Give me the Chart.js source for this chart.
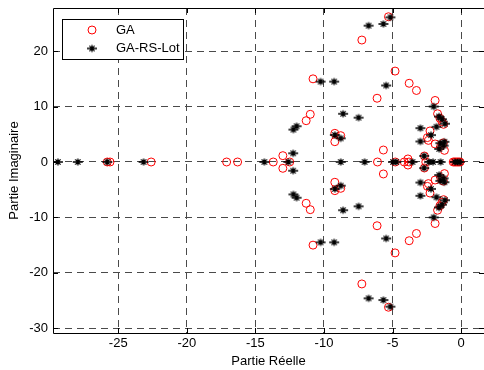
<!DOCTYPE html>
<html>
<head>
<meta charset="utf-8">
<script src="https://cdn.jsdelivr.net/npm/chart.js@4/dist/chart.umd.min.js"></script>
<style>
  html, body { margin: 0; padding: 0; background: #fff; overflow: hidden; }
  canvas { display: block; }
</style>
</head>
<body>
<canvas id="poles" width="490" height="370"></canvas>
<script>
// poles found by each method (real part, imaginary part)
const gaReal = [
  -5.30, -7.24, -4.82, -10.8, -3.79, -3.26, -6.13, -1.90, -11.0, -11.3,
  -1.72, -1.55, -1.40, -1.28, -9.21, -8.78, -9.21, -5.67, -13.0,
  -2.27, -2.46, -2.39, -1.90, -1.30, -1.50, -1.22, -2.68, -3.88,
  -5.30, -7.24, -4.82, -10.8, -3.79, -3.26, -6.13, -1.90, -11.0, -11.3,
  -1.72, -1.55, -1.40, -1.28, -9.21, -8.78, -9.21, -5.67, -13.0,
  -2.27, -2.46, -2.39, -1.90, -1.30, -1.50, -1.22, -2.68, -3.88,
  -12.5, -13.7, -16.3, -17.1, -22.6, -25.8, -25.6, -6.10, -4.80, -4.15, -3.80, -2.58,
  -0.58, -0.48, -0.38, -0.28, -0.18, -0.08
];
const gaImag = [
  26.2, 22.0, 16.4, 15.0, 14.2, 12.9, 11.5, 11.1, 8.6, 7.45,
  8.7, 7.9, 7.3, 6.8, 5.17, 4.75, 3.66, 2.16, 1.14,
  5.6, 4.4, 3.9, 3.25, 3.45, 2.8, 2.1, 1.08, 0.55,
  -26.2, -22.0, -16.4, -15.0, -14.2, -12.9, -11.5, -11.1, -8.6, -7.45,
  -8.7, -7.9, -7.3, -6.8, -5.17, -4.75, -3.66, -2.16, -1.14,
  -5.6, -4.4, -3.9, -3.25, -3.45, -2.8, -2.1, -1.08, -0.55,
  0, 0, 0, 0, 0, 0, 0, 0, 0, 0, 0, 0,
  0, 0, 0, 0, 0, 0
];

const lotReal = [
  -5.16, -5.67, -6.75, -10.25, -9.26, -5.47, -2.00, -8.61, -7.48, -12.0,
  -12.23, -9.21, -8.78, -12.25, -2.97, -2.20, -2.97, -1.80, -1.62, -1.40,
  -1.18, -1.52, -1.28, -1.22, -1.60, -2.70,
  -5.16, -5.67, -6.75, -10.25, -9.26, -5.47, -2.00, -8.61, -7.48, -12.0,
  -12.23, -9.21, -8.78, -12.25, -2.97, -2.20, -2.97, -1.80, -1.62, -1.40,
  -1.18, -1.52, -1.28, -1.22, -1.60, -2.70,
  -29.4, -27.95, -25.8, -23.15, -14.35, -12.6, -8.78, -7.04, -4.97, -4.73,
  -3.55, -2.34, -2.05, -1.50, -0.45, -0.25, -0.10
];
const lotImag = [
  26.1, 24.9, 24.6, 14.5, 14.5, 13.8, 10.0, 8.7, 8.0, 6.45,
  5.85, 4.87, 4.27, 1.57, 6.1, 4.85, 3.7, 6.35, 8.2, 7.7,
  6.9, 3.4, 2.95, 3.65, 2.35, 1.1,
  -26.1, -24.9, -24.6, -14.5, -14.5, -13.8, -10.0, -8.7, -8.0, -6.45,
  -5.85, -4.87, -4.27, -1.57, -6.1, -4.85, -3.7, -6.35, -8.2, -7.7,
  -6.9, -3.4, -2.95, -3.65, -2.35, -1.1,
  0, 0, 0, 0, 0, 0, 0, 0, 0, 0,
  0, 0, 0, 0, 0, 0, 0
];

const xTicks = [-25, -20, -15, -10, -5, 0];
const yTicks = [20, 10, 0, -10, -20, -30];
const seriesNames = ['GA', 'GA-RS-Lot'];

const FONT = { family: "'Liberation Sans', Arial, sans-serif", size: 13 };

function toPoints(re, im) {
  return re.map((v, i) => ({ x: v, y: im[i] }));
}

// asterisk marker: long horizontal stroke, short vertical and diagonal strokes
function drawStar(c, x, y) {
  c.beginPath();
  c.moveTo(x - 5, y); c.lineTo(x + 5, y);
  c.moveTo(x, y - 3.5); c.lineTo(x, y + 3.5);
  c.moveTo(x - 2.6, y - 2.6); c.lineTo(x + 2.6, y + 2.6);
  c.moveTo(x - 2.6, y + 2.6); c.lineTo(x + 2.6, y - 2.6);
  c.stroke();
}

const starMarker = document.createElement('canvas');
starMarker.width = 12;
starMarker.height = 12;
(() => {
  const c = starMarker.getContext('2d');
  c.strokeStyle = '#000';
  c.lineWidth = 1.3;
  drawStar(c, 6, 6);
})();

// box outline, inward tick marks and the legend drawn over the plot
const frame = {
  id: 'frame',
  afterDatasetsDraw(chart) {
    const { ctx, chartArea: a, scales } = chart;
    ctx.save();
    ctx.strokeStyle = '#000';
    ctx.lineWidth = 1;
    ctx.beginPath();
    ctx.rect(Math.round(a.left) + 0.5, Math.round(a.top) + 0.5, Math.round(a.right - a.left), Math.round(a.bottom - a.top));
    ctx.stroke();

    ctx.beginPath();
    xTicks.forEach(v => {
      const px = Math.round(scales.x.getPixelForValue(v)) + 0.5;
      ctx.moveTo(px, a.bottom); ctx.lineTo(px, a.bottom - 5);
      ctx.moveTo(px, a.top); ctx.lineTo(px, a.top + 5);
    });
    yTicks.forEach(v => {
      const py = Math.round(scales.y.getPixelForValue(v)) + 0.5;
      ctx.moveTo(a.left, py); ctx.lineTo(a.left + 5, py);
      ctx.moveTo(a.right, py); ctx.lineTo(a.right - 5, py);
    });
    ctx.stroke();

    // legend
    const bx = 62.5, by = 19.5, bw = 121, bh = 40;
    ctx.fillStyle = '#fff';
    ctx.fillRect(bx, by, bw, bh);
    ctx.strokeRect(bx, by, bw, bh);

    ctx.strokeStyle = '#ff0000';
    ctx.beginPath();
    ctx.arc(92, 30, 4, 0, Math.PI * 2);
    ctx.stroke();
    ctx.drawImage(starMarker, 92 - 6, 48.5 - 6);

    ctx.fillStyle = '#000';
    ctx.font = `${FONT.size}px ${FONT.family}`;
    ctx.textBaseline = 'middle';
    ctx.textAlign = 'left';
    ctx.fillText(seriesNames[0], 116, 30.5);
    ctx.fillText(seriesNames[1], 116, 48.5);
    ctx.restore();
  }
};

const ctx = document.getElementById('poles').getContext('2d');
new Chart(ctx, {
  type: 'scatter',
  data: {
    datasets: [
      {
        label: seriesNames[0],
        data: toPoints(gaReal, gaImag),
        pointStyle: 'circle',
        pointRadius: 4,
        pointBorderWidth: 1,
        pointBorderColor: '#ff0000',
        pointBackgroundColor: 'rgba(0,0,0,0)',
        order: 1
      },
      {
        label: seriesNames[1],
        data: toPoints(lotReal, lotImag),
        pointStyle: starMarker,
        pointRadius: 5,
        order: 0
      }
    ]
  },
  options: {
    responsive: false,
    animation: false,
    events: [],
    layout: { padding: { top: 8, right: 3, left: 0, bottom: 0 } },
    plugins: { legend: { display: false }, tooltip: { enabled: false } },
    scales: {
      x: {
        type: 'linear',
        min: -29.757,
        max: 1.665,
        afterBuildTicks: s => { s.ticks = xTicks.map(v => ({ value: v })); },
        afterFit: s => { s.height = 37; s.paddingLeft = 0; s.paddingRight = 0; },
        grid: { color: '#4a4a4a', lineWidth: 1, drawTicks: false },
        border: { display: false, dash: [7, 5] },
        ticks: { color: '#000', font: FONT, padding: 3, maxRotation: 0 },
        title: { display: true, text: 'Partie Réelle', color: '#000', font: FONT, padding: { top: 0, bottom: 1 } }
      },
      y: {
        type: 'linear',
        min: -30.85,
        max: 27.78,
        afterBuildTicks: s => { s.ticks = yTicks.map(v => ({ value: v })); },
        afterFit: s => { s.width = 53; s.paddingTop = 0; s.paddingBottom = 0; },
        grid: { color: '#4a4a4a', lineWidth: 1, drawTicks: false },
        border: { display: false, dash: [7, 5] },
        ticks: { color: '#000', font: FONT, padding: 5 },
        title: { display: true, text: 'Partie Imaginaire', color: '#000', font: FONT, padding: { top: 7, bottom: 0 } }
      }
    }
  },
  plugins: [frame]
});
</script>
</body>
</html>
